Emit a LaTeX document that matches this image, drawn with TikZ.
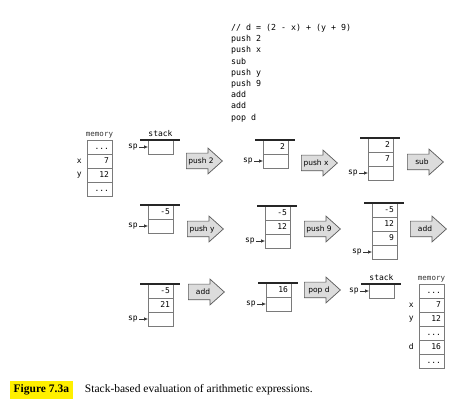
\documentclass[tikz,border=0pt]{standalone}
\usepackage{fontspec}
\setmainfont{Liberation Serif}
\setsansfont{DejaVu Sans}
\setmonofont{DejaVu Sans Mono}
\usetikzlibrary{positioning,shapes.arrows,arrows.meta}
\definecolor{cellgray}{HTML}{7A7A7A}
\definecolor{opfill}{HTML}{DCDCDC}
\definecolor{hilite}{HTML}{FFF000}
\tikzset{
  cell/.style={draw=cellgray, line width=0.8pt, rectangle, minimum width=25pt, minimum height=14pt,
    text width=19pt, align=right, inner xsep=3pt, inner ysep=0pt, outer sep=0pt,
    font=\ttfamily\fontsize{8}{9}\selectfont, text height=6pt, text depth=1pt},
  bar/.style={line width=1.6pt, black!85},
  lbl/.style={font=\ttfamily\fontsize{8}{9}\selectfont, inner sep=1pt},
  memlbl/.style={lbl, font=\ttfamily\fontsize{7.5}{9}\selectfont, text=black!80},
  spptr/.style={-{Latex[length=4pt,width=3.5pt]}, line width=0.6pt, black!80},
  op/.style={single arrow, draw=black!65, line width=0.7pt, fill=opfill, anchor=tail,
    minimum height=36pt, single arrow head extend=5pt, single arrow tip angle=84,
    inner sep=0pt, text height=15pt, text depth=0pt, text width=1pt},
  optext/.style={font=\sffamily\fontsize{7.5}{9}\selectfont, inner sep=0pt}
}
\begin{document}
\begin{tikzpicture}[x=1pt, y=-1pt]
        \useasboundingbox (0,0) rectangle (472,406);

        % program
        \node [lbl, anchor=north west, align=left, inner sep=0pt, font=\ttfamily\fontsize{8.3}{11.2}\selectfont] (code) at (231,24)
            {// d = (2 - x) + (y + 9)\\push 2\\push x\\sub\\push y\\push 9\\add\\add\\pop d};

        % memory before
        \node [cell, anchor=north west] (m1a) at (87,140) {...};
        \node [cell, below=0pt of m1a] (m1b) {7};
        \node [cell, below=0pt of m1b] (m1c) {12};
        \node [cell, below=0pt of m1c] (m1d) {...};
        \node [memlbl, above=1pt of m1a] (m1lbl) {memory};
        \node [lbl, left=4pt of m1b] (m1x) {x};
        \node [lbl, left=4pt of m1c] (m1y) {y};

        % empty stack
        \node [cell, anchor=north west] (s1a) at (148,140) {};
        \draw [bar] ([xshift=-8pt]s1a.north west) -- ([xshift=7pt]s1a.north east);
        \node [lbl, above=2pt of s1a] (s1lbl) {stack};
        \node [lbl, left=9pt of s1a] (s1sp) {sp};
        \draw [spptr] (s1sp) -- (s1a);

        \node [op] (op1) at (186,161) {};
        \node [optext] at ([xshift=15pt]op1.tail) {push 2};

        % after push 2
        \node [cell, anchor=north west] (s2a) at (263,140) {2};
        \node [cell, below=0pt of s2a] (s2b) {};
        \draw [bar] ([xshift=-8pt]s2a.north west) -- ([xshift=7pt]s2a.north east);
        \node [lbl, left=9pt of s2b] (s2sp) {sp};
        \draw [spptr] (s2sp) -- (s2b);

        \node [op] (op2) at (301,163) {};
        \node [optext] at ([xshift=15pt]op2.tail) {push x};

        % after push x
        \node [cell, anchor=north west] (s3a) at (368,138) {2};
        \node [cell, below=0pt of s3a] (s3b) {7};
        \node [cell, below=0pt of s3b] (s3c) {};
        \draw [bar] ([xshift=-8pt]s3a.north west) -- ([xshift=7pt]s3a.north east);
        \node [lbl, left=9pt of s3c] (s3sp) {sp};
        \draw [spptr] (s3sp) -- (s3c);

        \node [op] (op3) at (407,162) {};
        \node [optext] at ([xshift=15pt]op3.tail) {sub};

        % after sub
        \node [cell, anchor=north west] (s4a) at (148,205) {-5};
        \node [cell, below=0pt of s4a] (s4b) {};
        \draw [bar] ([xshift=-8pt]s4a.north west) -- ([xshift=7pt]s4a.north east);
        \node [lbl, left=9pt of s4b] (s4sp) {sp};
        \draw [spptr] (s4sp) -- (s4b);

        \node [op] (op4) at (187,229) {};
        \node [optext] at ([xshift=15pt]op4.tail) {push y};

        % after push y
        \node [cell, anchor=north west] (s5a) at (265,206) {-5};
        \node [cell, below=0pt of s5a] (s5b) {12};
        \node [cell, below=0pt of s5b] (s5c) {};
        \draw [bar] ([xshift=-8pt]s5a.north west) -- ([xshift=7pt]s5a.north east);
        \node [lbl, left=9pt of s5c] (s5sp) {sp};
        \draw [spptr] (s5sp) -- (s5c);

        \node [op] (op5) at (304,229) {};
        \node [optext] at ([xshift=15pt]op5.tail) {push 9};

        % after push 9
        \node [cell, anchor=north west] (s6a) at (372,203) {-5};
        \node [cell, below=0pt of s6a] (s6b) {12};
        \node [cell, below=0pt of s6b] (s6c) {9};
        \node [cell, below=0pt of s6c] (s6d) {};
        \draw [bar] ([xshift=-8pt]s6a.north west) -- ([xshift=7pt]s6a.north east);
        \node [lbl, left=9pt of s6d] (s6sp) {sp};
        \draw [spptr] (s6sp) -- (s6d);

        \node [op] (op6) at (410,229) {};
        \node [optext] at ([xshift=15pt]op6.tail) {add};

        % after add
        \node [cell, anchor=north west] (s7a) at (148,284) {-5};
        \node [cell, below=0pt of s7a] (s7b) {21};
        \node [cell, below=0pt of s7b] (s7c) {};
        \draw [bar] ([xshift=-8pt]s7a.north west) -- ([xshift=7pt]s7a.north east);
        \node [lbl, left=9pt of s7c] (s7sp) {sp};
        \draw [spptr] (s7sp) -- (s7c);

        \node [op] (op7) at (188,292) {};
        \node [optext] at ([xshift=15pt]op7.tail) {add};

        % after add
        \node [cell, anchor=north west] (s8a) at (266,283) {16};
        \node [cell, below=0pt of s8a] (s8b) {};
        \draw [bar] ([xshift=-8pt]s8a.north west) -- ([xshift=7pt]s8a.north east);
        \node [lbl, left=9pt of s8b] (s8sp) {sp};
        \draw [spptr] (s8sp) -- (s8b);

        \node [op] (op8) at (304,290) {};
        \node [optext] at ([xshift=15pt]op8.tail) {pop d};

        % after pop d
        \node [cell, anchor=north west] (s9a) at (369,284) {};
        \draw [bar] ([xshift=-8pt]s9a.north west) -- ([xshift=7pt]s9a.north east);
        \node [lbl, above=2pt of s9a] (s9lbl) {stack};
        \node [lbl, left=9pt of s9a] (s9sp) {sp};
        \draw [spptr] (s9sp) -- (s9a);

        % memory after
        \node [cell, anchor=north west] (m2a) at (419,284) {...};
        \node [cell, below=0pt of m2a] (m2b) {7};
        \node [cell, below=0pt of m2b] (m2c) {12};
        \node [cell, below=0pt of m2c] (m2d) {...};
        \node [cell, below=0pt of m2d] (m2e) {16};
        \node [cell, below=0pt of m2e] (m2f) {...};
        \node [memlbl, above=1pt of m2a] (m2lbl) {memory};
        \node [lbl, left=4pt of m2b] (m2x) {x};
        \node [lbl, left=4pt of m2c] (m2y) {y};
        \node [lbl, left=4pt of m2e] (m2dl) {d};

        % caption
        \node [fill=hilite, anchor=west, inner xsep=3.5pt, minimum height=14pt, font=\bfseries\fontsize{11.5}{13}\selectfont] (fignum) at (10,390) {Figure 7.3a};
        \node [right=12pt of fignum, inner sep=0pt, font=\fontsize{11.5}{13}\selectfont] (figcap) {Stack-based evaluation of arithmetic expressions.};
    \end{tikzpicture}
\end{document}
